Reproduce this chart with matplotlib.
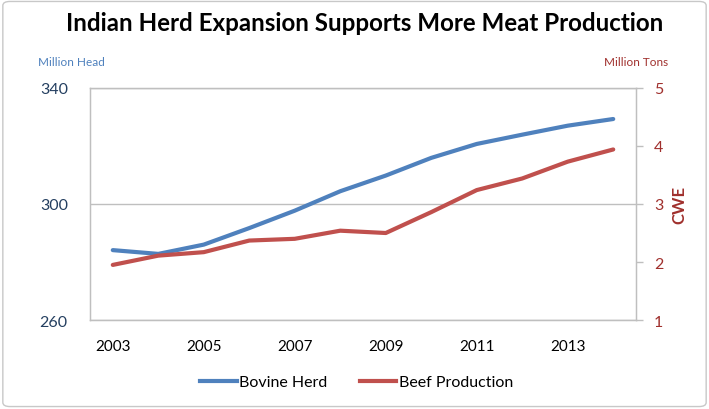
import matplotlib
matplotlib.use("Agg")
import matplotlib.pyplot as plt
from matplotlib.patches import FancyBboxPatch
from matplotlib.lines import Line2D

years = [2003, 2004, 2005, 2006, 2007, 2008, 2009, 2010, 2011, 2012, 2013, 2014]
bovine_herd = [284.1, 282.8, 286.0, 291.7, 297.7, 304.4, 309.8, 315.9, 320.7, 323.9, 327.0, 329.3]
beef_production = [1.95, 2.11, 2.17, 2.37, 2.40, 2.54, 2.50, 2.86, 3.24, 3.44, 3.73, 3.94]
left_ticks = [260, 300, 340]
right_ticks = [1, 2, 3, 4, 5]
xtick_years = [2003, 2005, 2007, 2009, 2011, 2013]

BLUE = "#4F81BD"
RED = "#C0504D"
NAVY = "#243F60"
DARKRED = "#A0302D"
GRID = "#BFBFBF"

plt.rcParams['font.family'] = ['Lato', 'DejaVu Sans']

fig = plt.figure(figsize=(7.09, 4.10), dpi=100)
fig.patch.set_facecolor("white")
border = FancyBboxPatch((0.004, 0.006), 0.992, 0.988, boxstyle="round,pad=0,rounding_size=0.01",
                        transform=fig.transFigure, fill=False, edgecolor="#C8C8C8", linewidth=1.0)
fig.patches.append(border)

ax = fig.add_axes([0.127, 0.217, 0.770, 0.566])
x = list(range(len(years)))
ax.plot(x, bovine_herd, color=BLUE, linewidth=3.0, solid_capstyle="round")
ax.set_xlim(-0.5, len(years) - 0.5)
ax.set_ylim(260, 340)
ax.set_yticks(left_ticks)
ax.set_yticklabels([str(v) for v in left_ticks], color=NAVY, fontsize=11.5)
ax.tick_params(axis="y", length=0, pad=16)
ax.set_xticks([years.index(y) for y in xtick_years])
ax.set_xticklabels([str(y) for y in xtick_years], fontsize=11, color="black")
ax.tick_params(axis="x", length=0, pad=14)
ax.grid(axis="y", color=GRID, linewidth=1.0)
ax.set_axisbelow(True)
for s in ax.spines.values():
    s.set_color(GRID)
    s.set_linewidth(1.0)

ax2 = ax.twinx()
ax2.plot(x, beef_production, color=RED, linewidth=3.0, solid_capstyle="round")
ax2.set_ylim(1, 5)
ax2.set_yticks(right_ticks)
ax2.set_yticklabels([str(v) for v in right_ticks], color=DARKRED, fontsize=11.5)
ax2.tick_params(axis="y", length=5, width=1, color=GRID, pad=8)
for s in ax2.spines.values():
    s.set_color(GRID)
ax2.set_ylabel("CWE", color=DARKRED, fontsize=12, fontweight="bold", labelpad=6)

fig.text(0.514, 0.942, "Indian Herd Expansion Supports More Meat Production",
         ha="center", va="center", fontsize=17.4, fontweight="bold", color="black")
fig.text(0.054, 0.848, "Million Head", ha="left", va="center", fontsize=8.5, color=BLUE)
fig.text(0.942, 0.848, "Million Tons", ha="right", va="center", fontsize=8.5, color=DARKRED)

handles = [Line2D([], [], color=BLUE, linewidth=3.0), Line2D([], [], color=RED, linewidth=3.0)]
fig.legend(handles, ["Bovine Herd", "Beef Production"], loc="center", bbox_to_anchor=(0.503, 0.065),
           ncol=2, frameon=False, fontsize=11.5, handlelength=2.3, handletextpad=0.15, columnspacing=2.0)

fig.savefig("out.png", dpi=100)
